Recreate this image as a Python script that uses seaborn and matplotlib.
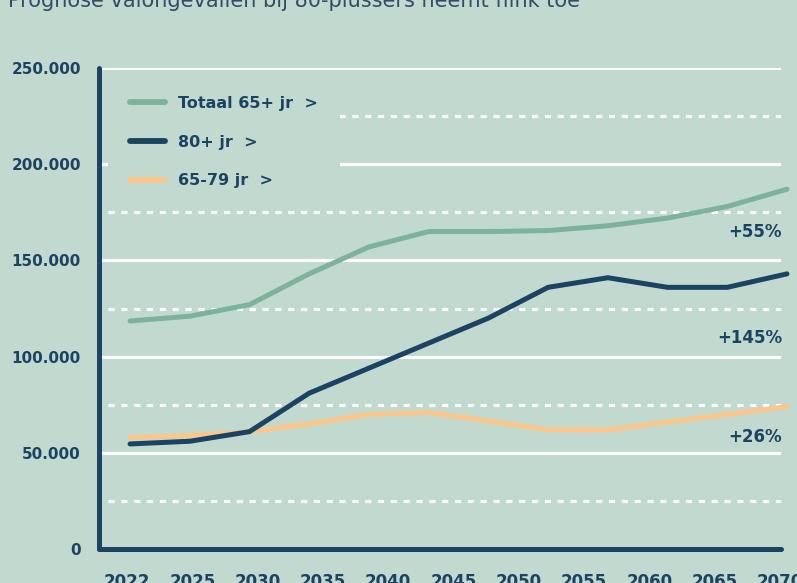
import numpy as np
import pandas as pd
import matplotlib
matplotlib.use("Agg")
import matplotlib.pyplot as plt
import seaborn as sns
from matplotlib.lines import Line2D

# kleuren
bg = "#c2d9d0"
donker = "#1b4462"
groen = "#7db39a"
oranje = "#fcc68b"

# data (aantallen valongevallen)
punten = list(range(12))
totaal = [118500, 121000, 127000, 143000, 157000, 165000, 165000, 165500, 168000, 172000, 178000, 187000]
plus80 = [54600, 56000, 61000, 81000, 94000, 107000, 120000, 136000, 141000, 136000, 136000, 143000]
jr65_79 = [58000, 59000, 61000, 65000, 70000, 71000, 66500, 62000, 62000, 66000, 70000, 74000]
jaren = ["2022", "2025", "2030", "2035", "2040", "2045", "2050", "2055", "2060", "2065", "2070"]
groei = ["+55%", "+145%", "+26%"]
reeksen = ["Totaal 65+ jr  >", "80+ jr  >", "65-79 jr  >"]

df = pd.DataFrame({
    "punt": punten * 3,
    "aantal": totaal + plus80 + jr65_79,
    "reeks": [reeksen[0]] * 12 + [reeksen[1]] * 12 + [reeksen[2]] * 12,
})

sns.set_style("white")
plt.rcParams["font.family"] = ["DejaVu Sans"]

fig = plt.figure(figsize=(7.97, 5.83), dpi=100, facecolor=bg)
ax = fig.add_axes([99 / 797, 34 / 583, 682 / 797, 481 / 583])
ax.set_facecolor(bg)

# rasterlijnen
for v in [50000, 100000, 150000, 200000, 250000]:
    ax.axhline(v, color="white", lw=2.2, zorder=1)
for v in [25000, 75000, 125000, 175000, 225000]:
    ax.axhline(v, xmin=0.013, color="white", lw=2.2, ls=(0, (2, 2.2)), zorder=1)

sns.lineplot(data=df, x="punt", y="aantal", hue="reeks", hue_order=reeksen[::-1],
             palette={reeksen[0]: groen, reeksen[1]: donker, reeksen[2]: oranje},
             lw=3.6, ax=ax, zorder=3, legend=False)
for l in ax.lines[-3:]:
    l.set_solid_capstyle("round")
    l.set_clip_on(False)

ax.set_xlim(-0.52, 10.9)
ax.set_ylim(0, 250000)
ax.set_xticks(np.linspace(-0.05, 10.88, 11))
ax.set_xticklabels(jaren)
yticks = [0, 50000, 100000, 150000, 200000, 250000]
ax.set_yticks(yticks)
ax.set_yticklabels([f"{v:,}".replace(",", ".") for v in yticks])
ax.set_xlabel("")
ax.set_ylabel("")

for s in ["top", "right"]:
    ax.spines[s].set_visible(False)
for s in ["left", "bottom"]:
    ax.spines[s].set_color(donker)
    ax.spines[s].set_linewidth(3.6)
    ax.spines[s].set_capstyle("round")
ax.tick_params(axis="x", length=9, width=3, color=donker, pad=8, labelsize=12, labelcolor=donker)
ax.tick_params(axis="y", length=0, pad=13, labelsize=11, labelcolor=donker)
for t in ax.get_xticklabels() + ax.get_yticklabels():
    t.set_fontweight("bold")

# legenda
handles = [Line2D([0], [0], color=c, lw=4.2, solid_capstyle="round") for c in [groen, donker, oranje]]
leg = ax.legend(handles, reeksen, loc="upper left", bbox_to_anchor=(108 / 797, 1 - 74 / 583),
                bbox_transform=fig.transFigure, frameon=True, facecolor=bg, edgecolor="none",
                framealpha=1, fancybox=False, fontsize=11.5, handlelength=2.2, handletextpad=0.85,
                labelspacing=1.5, borderpad=1.35, borderaxespad=0)
leg.set_zorder(2)
for t in leg.get_texts():
    t.set_color(donker)
    t.set_fontweight("bold")

# groeipercentages
for tekst, yv in zip(groei, [164800, 109700, 58200]):
    ax.text(10.92, yv, tekst, ha="right", va="center", fontsize=12, fontweight="bold",
            color=donker, zorder=4)

fig.text(8 / 797, 1 - 7 / 583, "Prognose valongevallen bij 80-plussers neemt flink toe",
         ha="left", va="baseline", fontsize=15, color="#2e4f66")

fig.savefig("out.png", dpi=100, facecolor=bg)
